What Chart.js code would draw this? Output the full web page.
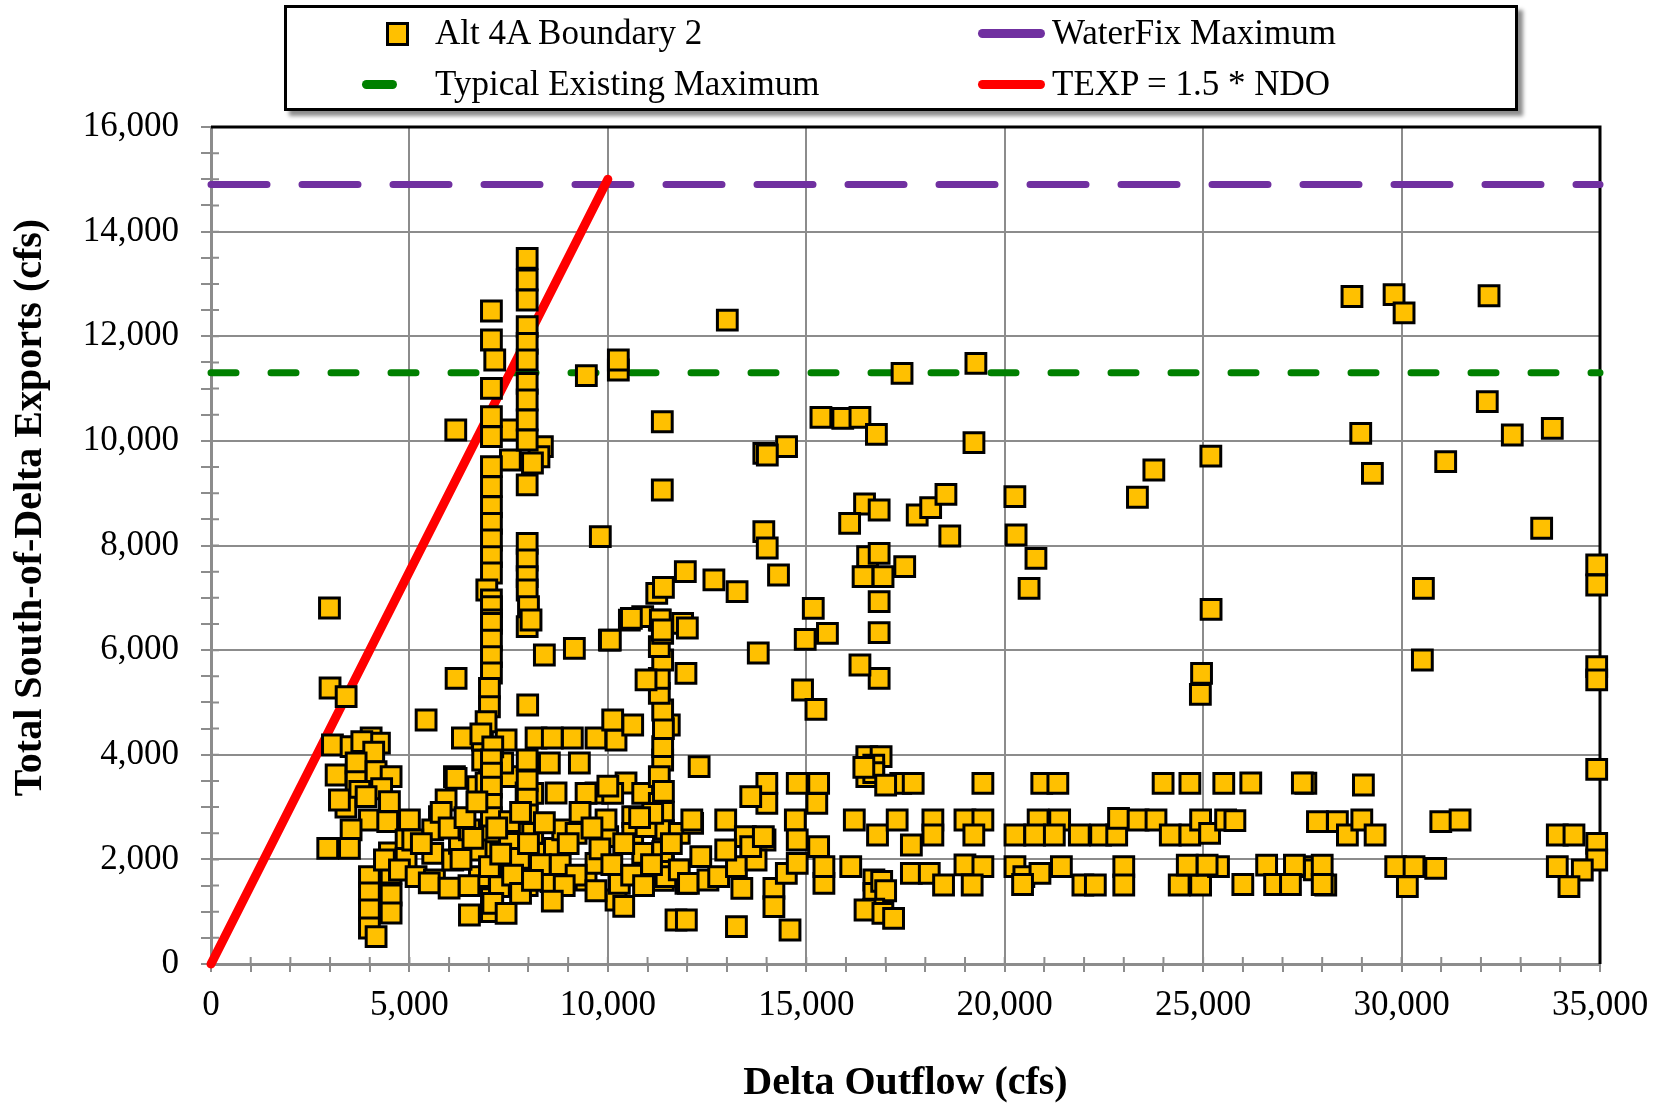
<!DOCTYPE html>
<html>
<head>
<meta charset="utf-8">
<script src="https://cdn.jsdelivr.net/npm/chart.js@4.4.1/dist/chart.umd.min.js"></script>
<style>
  html, body { margin: 0; padding: 0; background: #fff; }
  #wrap { position: relative; width: 1671px; height: 1108px; }
  #legend {
    position: absolute; left: 284px; top: 5px; width: 1228px; height: 100px;
    border: 3px solid #000; background: #fff;
    box-shadow: 5px 5px 4px rgba(0,0,0,0.45);
    font-family: 'Liberation Serif', 'Times New Roman', serif; font-size: 35px; color: #000;
  }
  .lg-item { position: absolute; white-space: nowrap; line-height: 40px; height: 40px; }
  .lg-sym { position: absolute; }
</style>
</head>
<body>
<div id="wrap">
  <canvas id="chart" width="1671" height="1108"></canvas>
  <div id="legend"></div>
</div>
<script>
// Delta Outflow (cfs) vs Total South-of-Delta Exports (cfs)
const alt4aPoints = [
  // left cluster, x < 5000
  [2985,6805],[3000,5276],[3405,5110],[3060,4186],[3530,4154],[4035,4320],[4244,4224],
  [3800,4250],[4100,4050],[3153,3613],[3657,3842],[3657,3485],[4160,3676],[4538,3580],
  [3750,3300],[4300,3350],[3400,3000],[3236,3135],[3908,3198],[4496,3103],[3992,2753],
  [3530,2562],[2942,2212],[3488,2212],[4453,2720],[5000,2753],[3992,1669],[3992,1357],
  [3992,1032],[3992,688],[4160,522],[4538,1319],[4538,975],[4538,1740],[4496,2122],
  [4370,1988],[4916,2370],[4916,2020],
  // scattered 5000 - 10000
  [5420,4664],[6176,5461],[7980,4951],[8400,5907],[9156,6035],[10038,6193],[6134,3580],
  [5924,3135],[5756,2816],[6176,3549],[6720,3390],[6846,3900],[7016,3485],[7520,3580],
  [6168,10208],[7493,10208],[7544,9634],[8350,9889],[8264,9697],[8100,9577],
  [9458,11246],[10264,11355],[10264,11546],[9810,8169],
  // row near 4300
  [6335,4320],[6840,4282],[7436,4282],[8191,4320],[8600,4320],[9105,4320],[9701,4320],
  [10206,4282],[10626,4569],[10122,4664],[11548,4569],
  // row near 3300
  [6932,3460],[7940,3269],[8695,3269],[9701,3269],[10458,3460],[8526,3842],[9282,3842],
  [7350,3842],[8106,3263],[9451,3263],[10122,3263],[10000,3400],[10878,3263],[10626,2816],
  [11297,3071],
  // column near 7100
  [7066,12483],[7066,11928],[7150,11546],[7066,11005],[7066,10462],[7066,10080],[7066,9506],
  [7066,9124],[7066,8741],[7066,8424],[7066,8105],[7066,7786],[7066,7474],[6950,7149],
  [7066,6958],[7066,6830],[7066,6576],[7066,6510],[7066,6193],[7066,5874],[7066,5563],
  [7016,5270],[7016,4918],[6932,4631],[6800,4400],[7100,4150],
  [7066,3900],[7066,3650],[7066,3380],[7066,3050],[7066,2800],[7066,2450],[7066,2150],
  [7066,1850],[7066,1550],[7066,1250],[7066,1000],
  // column near 8000
  [7967,13490],[7967,13075],[7967,12693],[7967,12183],[7967,11865],[7967,11546],[7967,11100],
  [7967,10781],[7967,10399],[7967,10017],[7967,9157],[7967,8042],[7967,7723],[7967,7404],
  [7967,7149],[8000,6830],[7967,6448],[8064,6576],
  [7967,3900],[7967,3500],[7967,3150],[7967,2850],[7967,2500],[7967,2150],[7967,1800],[7967,1500],
  // column near 11400
  [11372,10366],[11372,9061],[11381,3900],[11297,3580],[11381,4154],[11400,4500],[11381,4855],
  [11297,5175],[11297,5461],[11381,5811],[11297,6065],[11381,6320],[11297,6575],[10962,5430],
  [10878,6640],[10542,6575],[11968,5557],[11884,6510],[12300,3772],[11400,3300],[11400,2900],
  [11400,2550],[11400,2200],[11400,1850],[11400,1600],
  [11952,7500],[12672,7341],[13256,7117],[11232,7085],[11400,7200],[10592,6607],[11322,6576],
  [11372,6385],[12003,6423],[10063,6193],
  // dense band 5000 - 12000
  [5587,2562],[5084,2370],[4748,1797],[5168,1669],[5630,1606],[5587,2116],[6091,1988],
  [6260,2307],[6512,2562],[6680,2179],[6764,1669],[7016,1860],[7268,1478],[7100,1160],
  [6512,937],[7436,969],[7520,2720],[7520,2307],[7772,2020],[8106,2498],[8274,2116],
  [8569,1573],[8653,2212],[8862,2562],[9200,2498],[9451,1606],[9701,1925],[9996,2434],
  [10206,1223],[10290,1543],[9954,2753],[10626,2498],[10878,2116],[11381,2147],[11717,841],
  [11800,2498],[11465,1669],[11968,1543],[12136,2689],[10962,2625],[11130,2880],
  [5300,2300],[5800,2900],[6000,2600],[6300,2000],[6400,2800],[6600,2400],[6700,3100],
  [7200,2600],[7300,2100],[7600,1700],[7800,2900],[8000,2300],[8300,1900],[8400,2700],
  [8800,1900],[9000,2300],[9200,1700],[9300,2900],[9600,2600],[9800,2200],[10100,1900],
  [10400,2300],[10600,1700],[10800,2800],[11100,1900],[11600,2300],[11800,1800],[6500,1500],
  [8900,1500],[10900,1500],[5500,1550],[6000,1450],[7800,1350],[9700,1400],[10400,1100],
  [8100,1600],[8600,1200],
  // 12000 - 17000 upper
  [13010,12310],[13930,9762],[13930,8264],[14016,7952],[14300,7436],[13790,5945],
  [15369,10450],[15919,10430],[16352,10450],[16767,10125],[14503,9889],[14018,9730],
  [16468,8793],[16836,8679],[16092,8424],[16545,7787],[16836,7851],[17480,7595],[16431,7404],
  [16934,7404],[16836,6926],[16836,6334],[16836,5461],[16352,5716],[15176,6799],[15533,6321],
  [14973,6207],[14906,5238],[15243,4869],
  // 17000 - 26000 upper
  [17413,11291],[19274,11482],[19225,9966],[23758,9443],[23344,8922],[25194,9710],[20256,8933],
  [20287,8201],[20787,7755],[20614,7181],[17795,8583],[18134,8723],[18519,8978],[18616,8182],
  [25200,6780],[24960,5557],[24930,5155],
  // far right
  [33530,8330],[34917,7628],[34917,7245],[30550,7181],[30524,5811],[34917,5684],[34917,5430],
  [34917,3722],[29038,3422],[27588,3455],[27880,2720],[28383,2720],[28635,2466],[28998,2753],
  [29333,2466],[30988,2720],[31474,2753],[33924,2466],[34344,2466],[34917,2307],[34917,1988],
  [33924,1860],[34554,1797],[34218,1478],[29853,1860],[30314,1860],[30860,1829],[30146,1478],
  [27544,1860],[27800,1800],[28090,1510],[29811,12797],[30063,12445],[32204,12774],[28750,12760],
  [32160,10749],[32790,10112],[33798,10240],[28971,10144],[31112,9602],[29265,9380],
  // row near 3450
  [14006,3454],[14772,3454],[15311,3454],[15265,3072],[14006,3072],[13600,3198],[16525,3963],
  [16885,3963],[16525,3581],[17380,3454],[17694,3454],[19450,3454],[20934,3454],[21339,3454],
  [23991,3454],[24666,3454],[25520,3454],[26200,3460],[27500,3460],
  // row near 2700
  [12116,2753],[12970,2753],[13464,2434],[13960,2370],[14724,2753],[14772,2370],[15311,2243],
  [16210,2753],[16795,2466],[17290,2753],[17648,2275],[18190,2753],[18190,2466],[18998,2753],
  [19450,2753],[19222,2466],[20258,2466],[20842,2753],[21384,2753],[20754,2466],[21250,2466],
  [21880,2466],[22416,2466],[22822,2466],[22868,2785],[23361,2753],[23812,2753],[24172,2466],
  [24666,2466],[24936,2753],[25163,2498],[25566,2753],[25800,2740],
  // rows near 1800 and 1500
  [17648,1734],[18099,1734],[18459,1510],[18998,1893],[19450,1860],[19180,1510],[20258,1860],
  [20482,1669],[20888,1734],[21428,1860],[21970,1510],[22284,1510],[23000,1860],[23000,1510],
  [24397,1510],[24936,1510],[25387,1860],[20450,1520],[24600,1890],[25100,1890],[26600,1890],
  [27300,1890],[28000,1890],[26000,1520],[26800,1520],[27200,1520],[28000,1520],
  // dense band 12000 - 17000 lower
  [12030,1543],[12522,1606],[12792,1669],[13240,1860],[13376,1447],[13735,1988],[14184,1447],
  [14497,1734],[14772,1925],[15444,1543],[15444,1860],[16120,1860],[16704,1606],[16704,1351],
  [12341,2051],[12970,2179],[13600,2243],[13918,2434],[16900,1580],[17000,1400],[16700,1050],
  [13240,713],[14590,650],[16480,1032],[16930,969],[17200,874],[14184,1095],[11978,841],
  [16700,3800],[16700,3660],[17000,3420],[16450,3760]
];

const waterFixMax = 14900;      // cfs
const typicalExistingMax = 11300;
const outflowRange = [0, 35000];
const texpOutflow = [0, 10000]; // TEXP = 1.5 * NDO
const texpExports = texpOutflow.map(v => 1.5 * v);

const xTicks = { min: 0, max: 35000, major: 5000, minor: 1000 };
const yTicks = { min: 0, max: 16000, major: 2000, minor: 500 };
const yTitle = 'Total South-of-Delta Exports (cfs)';

const GRID = '#8c8c8c';
const SERIF = "'Liberation Serif', 'Times New Roman', serif";

const fmt = v => v.toLocaleString('en-US');

// Excel-style ticks crossing the axis, plus the black top/right frame
const frameTicks = {
  id: 'frameTicks',
  beforeDatasetsDraw(chart) {
    const { ctx, chartArea: a, scales: { x, y } } = chart;
    ctx.save();
    ctx.strokeStyle = GRID;
    ctx.lineWidth = 2;
    ctx.beginPath();
    x.ticks.forEach(t => {
      const px = x.getPixelForValue(t.value);
      ctx.moveTo(px, a.bottom); ctx.lineTo(px, a.bottom - 7);
    });
    y.ticks.forEach(t => {
      const py = y.getPixelForValue(t.value);
      ctx.moveTo(a.left, py); ctx.lineTo(a.left + 8, py);
    });
    ctx.stroke();
    ctx.strokeStyle = '#000';
    ctx.lineWidth = 3;
    ctx.beginPath();
    ctx.moveTo(a.left, a.top); ctx.lineTo(a.right, a.top); ctx.lineTo(a.right, a.bottom);
    ctx.stroke();
    ctx.restore();
  },
  // y title sits a bit above the middle of the axis in the original
  afterDraw(chart) {
    const { ctx, chartArea: a } = chart;
    ctx.save();
    ctx.translate(31, (a.top + a.bottom) / 2 - 38);
    ctx.rotate(-Math.PI / 2);
    ctx.font = `bold 40px ${SERIF}`;
    ctx.fillStyle = '#000';
    ctx.textAlign = 'center';
    ctx.textBaseline = 'middle';
    ctx.fillText(yTitle, 0, 0);
    ctx.restore();
  }
};

const chart = new Chart(document.getElementById('chart'), {
  type: 'scatter',
  data: {
    datasets: [
      {
        type: 'scatter',
        label: 'Alt 4A Boundary 2',
        data: alt4aPoints.map(([x, y]) => ({ x, y })),
        pointStyle: 'rect',
        pointRadius: 14,
        pointBorderWidth: 3,
        backgroundColor: '#FFC000',
        borderColor: '#000',
        clip: false,
        order: 0,
      },
      {
        type: 'line',
        label: 'WaterFix Maximum',
        data: outflowRange.map(x => ({ x, y: waterFixMax })),
        borderColor: '#7030A0',
        borderWidth: 7,
        borderDash: [56, 35],
        borderCapStyle: 'round',
        pointRadius: 0,
        clip: false,
        order: 2,
      },
      {
        type: 'line',
        label: 'Typical Existing Maximum',
        data: outflowRange.map(x => ({ x, y: typicalExistingMax })),
        borderColor: '#008000',
        borderWidth: 7,
        borderDash: [25, 35],
        borderCapStyle: 'round',
        pointRadius: 0,
        clip: false,
        order: 3,
      },
      {
        type: 'line',
        label: 'TEXP = 1.5 * NDO',
        data: texpOutflow.map((x, i) => ({ x, y: texpExports[i] })),
        borderColor: '#FF0000',
        borderWidth: 9,
        borderCapStyle: 'round',
        pointRadius: 0,
        clip: false,
        order: 1,
      },
    ],
  },
  options: {
    responsive: false,
    animation: false,
    layout: { padding: { left: 0, top: 127, right: 71, bottom: 0 } },
    plugins: { legend: { display: false }, tooltip: { enabled: false } },
    scales: {
      x: {
        type: 'linear',
        min: xTicks.min, max: xTicks.max,
        afterFit: s => { s.height = 144; },
        ticks: {
          stepSize: xTicks.minor, autoSkip: false, maxRotation: 0, padding: 13,
          color: '#000', font: { family: SERIF, size: 35 },
          callback: v => (v % xTicks.major === 0 ? fmt(v) : ''),
        },
        grid: {
          color: c => (c.tick && c.tick.value % xTicks.major === 0 ? GRID : 'rgba(0,0,0,0)'),
          lineWidth: 2, tickColor: GRID, tickLength: 8, tickWidth: 2,
        },
        border: { color: GRID, width: 3 },
        title: {
          display: true, text: 'Delta Outflow (cfs)', color: '#000',
          font: { family: SERIF, size: 40, weight: 'bold' }, padding: { top: 0, bottom: 0 },
        },
      },
      y: {
        type: 'linear',
        min: yTicks.min, max: yTicks.max,
        afterFit: s => { s.width = 211; },
        ticks: {
          stepSize: yTicks.minor, autoSkip: false, padding: 22,
          color: '#000', font: { family: SERIF, size: 35 },
          callback: v => (v % yTicks.major === 0 ? fmt(v) : ''),
        },
        grid: {
          color: c => (c.tick && c.tick.value % yTicks.major === 0 ? GRID : 'rgba(0,0,0,0)'),
          lineWidth: 2, tickColor: GRID, tickLength: 10, tickWidth: 2,
        },
        border: { color: GRID, width: 3 },
        title: { display: false, text: yTitle },
      },
    },
  },
  plugins: [frameTicks],
});

// 2 x 2 boxed legend like the original
(function buildLegend() {
  const box = document.getElementById('legend');
  const slots = [
    { ds: 0, left: 148, top: 5, sym: 'square', symLeft: 99 },
    { ds: 2, left: 148, top: 56, sym: 'dash', symLeft: 75, symWidth: 35 },
    { ds: 1, left: 765, top: 5, sym: 'line', symLeft: 691, symWidth: 67 },
    { ds: 3, left: 765, top: 56, sym: 'line', symLeft: 691, symWidth: 67 },
  ];
  slots.forEach(s => {
    const ds = chart.data.datasets[s.ds];
    const sym = document.createElement('div');
    sym.className = 'lg-sym';
    if (s.sym === 'square') {
      Object.assign(sym.style, {
        left: s.symLeft + 'px', top: (s.top + 9) + 'px', width: '17px', height: '18px',
        background: ds.backgroundColor, border: '3px solid #000',
      });
    } else {
      Object.assign(sym.style, {
        left: s.symLeft + 'px', top: (s.top + 16) + 'px', width: s.symWidth + 'px', height: '9px',
        background: ds.borderColor, borderRadius: '5px',
      });
    }
    box.appendChild(sym);
    const txt = document.createElement('div');
    txt.className = 'lg-item';
    txt.style.left = s.left + 'px';
    txt.style.top = s.top + 'px';
    txt.textContent = ds.label;
    box.appendChild(txt);
  });
})();
</script>
</body>
</html>
